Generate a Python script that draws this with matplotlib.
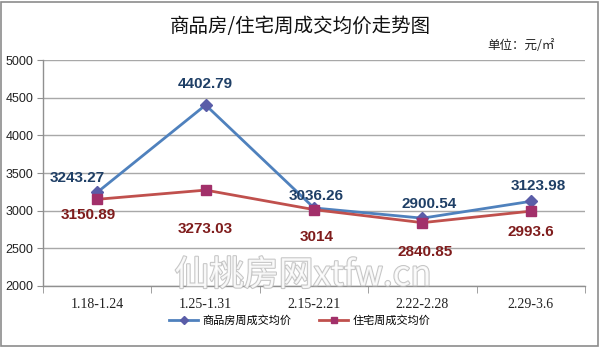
import matplotlib
matplotlib.use('Agg')
import matplotlib.pyplot as plt
import matplotlib.patheffects as pe
from matplotlib.patches import Rectangle
from matplotlib.lines import Line2D

plt.rcParams['font.family'] = ['Noto Sans CJK SC', 'DejaVu Sans']

weeks = ['1.18-1.24', '1.25-1.31', '2.15-2.21', '2.22-2.28', '2.29-3.6']
spf_price = [3243.27, 4402.79, 3036.26, 2900.54, 3123.98]
zz_price = [3150.89, 3273.03, 3014, 2840.85, 2993.6]
spf_labels = ['3243.27', '4402.79', '3036.26', '2900.54', '3123.98']
zz_labels = ['3150.89', '3273.03', '3014', '2840.85', '2993.6']

# label offsets in pixels (dx, dy)
spf_off = [(-20, 14), (0, 21), (2, 12), (7, 14), (8, 15)]
zz_off = [(-9, -16), (0, -39), (3, -27), (3, -29), (0, -21)]

fig = plt.figure(figsize=(6, 3.47), dpi=100)
fig.patches.append(Rectangle((0.002, 0.003), 0.995, 0.992, transform=fig.transFigure,
                             fill=False, edgecolor='#8c8c8c', linewidth=1.2))
ax = fig.add_axes([0.0717, 0.1758, 0.9033, 0.6512])

x = list(range(len(weeks)))
blue_line, red_line = '#4F81BD', '#C0504D'
ax.plot(x, spf_price, color=blue_line, linewidth=2, marker='D', markersize=6.5,
        markerfacecolor='#5A5DA8', markeredgecolor='#5A5DA8', zorder=3)
ax.plot(x, zz_price, color=red_line, linewidth=2, marker='s', markersize=7,
        markerfacecolor='#A2306A', markeredgecolor='#A2306A', zorder=3)

for i in x:
    ax.annotate(spf_labels[i], (i, spf_price[i]), xytext=spf_off[i], textcoords='offset pixels',
                ha='center', va='center', fontsize=11, fontweight='bold', color='#1F3F66',
                family=['Liberation Sans', 'DejaVu Sans'], zorder=6)
    ax.annotate(zz_labels[i], (i, zz_price[i]), xytext=zz_off[i], textcoords='offset pixels',
                ha='center', va='center', fontsize=11, fontweight='bold', color='#7F1C1C',
                family=['Liberation Sans', 'DejaVu Sans'], zorder=6)

ax.set_xlim(-0.5, 4.5)
ax.set_ylim(2000, 5000)
ax.set_yticks(range(2000, 5001, 500))
ax.set_yticklabels([str(v) for v in range(2000, 5001, 500)], fontsize=9,
                   family=['Liberation Sans', 'DejaVu Sans'], color='#222222')
ax.set_xticks(x)
ax.set_xticklabels(weeks, fontsize=10, family=['Liberation Serif', 'DejaVu Serif'], color='#222222')
ax.set_xticks([v - 0.5 for v in range(6)], minor=True)
ax.tick_params(axis='x', which='major', length=0, pad=9)
ax.tick_params(axis='x', which='minor', length=5, color='#909090', direction='out')
ax.tick_params(axis='y', length=4, color='#909090', pad=3)
ax.grid(axis='y', color='#a8a8a8', linewidth=1)
ax.set_axisbelow(True)
for s in ['top', 'right']:
    ax.spines[s].set_visible(False)
for s in ['left', 'bottom']:
    ax.spines[s].set_color('#909090')
    ax.spines[s].set_linewidth(1)

fig.text(0.5, 0.925, '商品房/住宅周成交均价走势图', ha='center', va='center', fontsize=14, color='#111111')
fig.text(0.925, 0.87, '单位：元/㎡', ha='right', va='center', fontsize=9, color='#222222')

# watermark
fig.text(0.505, 0.205, '仙桃房网xtfw.cn', ha='center', va='center', fontsize=25, color='white',
         alpha=0.85, zorder=1,
         path_effects=[pe.withStroke(linewidth=1.5, foreground='#bcbcbc')])

handles = [Line2D([], [], color=blue_line, linewidth=2, marker='D', markersize=4,
                  markerfacecolor='#5A5DA8', markeredgecolor='#5A5DA8'),
           Line2D([], [], color=red_line, linewidth=2, marker='s', markersize=4,
                  markerfacecolor='#A2306A', markeredgecolor='#A2306A')]
fig.legend(handles, ['商品房周成交均价', '住宅周成交均价'], loc='center', bbox_to_anchor=(0.5, 0.075),
           ncol=2, frameon=False, fontsize=8, handlelength=2.6, columnspacing=2.5, handletextpad=0.4)

fig.savefig('out.png', dpi=100)
